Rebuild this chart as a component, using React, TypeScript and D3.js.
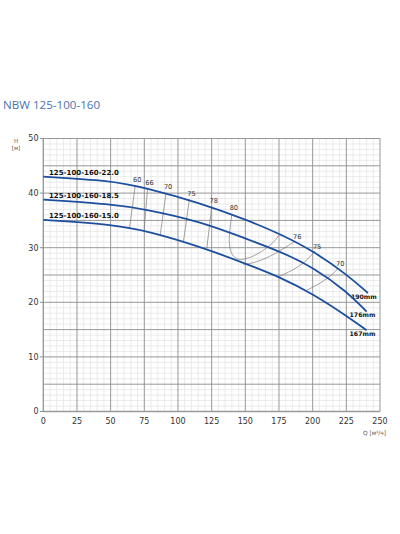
import { useEffect, useRef } from 'react';
import * as d3 from 'd3';

// pump curves (Q in m3/h, H in m)
const flow190 = [0, 50, 77, 116.5, 151, 176, 200.5, 225.3, 241];
const head190 = [43.0, 42.3, 40.9, 38.2, 35.1, 32.5, 29.4, 25.1, 21.7];
const flow176 = [0, 50, 77, 116.5, 151, 176, 200.5, 225.3, 240];
const head176 = [38.8, 38.0, 37.0, 34.8, 31.6, 29.3, 26.4, 22.0, 18.3];
const flow167 = [0, 50, 77, 116.5, 151, 176, 200.5, 225.3, 240];
const head167 = [35.1, 34.3, 33.1, 30.2, 27.0, 24.6, 21.5, 17.5, 14.9];

const modelNames = ['125-100-160-22.0', '125-100-160-18.5', '125-100-160-15.0'];
const impellerLabels = ['190mm', '176mm', '167mm'];

// efficiency iso-lines, left side (top point -> bottom point)
const effLeftValues = [60, 66, 70, 75, 78];
const effLeftTop: [number, number][] = [[68.3, 41.4], [77.4, 40.9], [91.2, 40.1], [108.5, 38.9], [125.1, 37.6]];
const effLeftBottom: [number, number][] = [[64.0, 33.6], [74.9, 33.2], [86.8, 32.3], [104.1, 31.2], [121.4, 29.9]];

// the 80% loop around the best point
const eff80: [number, number][] = [
  [140, 36.2], [138.6, 33.3], [138.2, 30.6], [140.5, 28.7], [145, 27.9],
  [152, 28.1], [162, 29.3], [170, 30.8], [175.5, 32.4]
];

// right side iso-lines (bottom point -> top point)
const effRightValues = [76, 75, 70];
const effRight: [number, number][][] = [
  [[148.6, 26.9], [158, 27.4], [168, 28.4], [178, 29.8], [187, 31.2]],
  [[174.6, 24.7], [185, 25.9], [194, 27.4], [201.8, 29.4]],
  [[195.6, 22.2], [204, 23.3], [212, 24.6], [219, 26.2]]
];

const xTicks = d3.range(0, 251, 25);
const yTicks = d3.range(0, 51, 10);

const FONT = '"DejaVu Sans", sans-serif';

export default function App() {
  const svgRef = useRef<SVGSVGElement>(null);

  useEffect(() => {
    if (!svgRef.current) return;
    const svg = d3.select(svgRef.current);
    svg.selectAll('*').remove();

    const x = d3.scaleLinear().domain([0, 250]).range([43.3, 380]);
    const y = d3.scaleLinear().domain([0, 50]).range([411.5, 138.5]);

    svg.append('rect').attr('width', 400).attr('height', 534).attr('fill', '#fff');

    // title
    svg.append('text')
      .attr('x', 3)
      .attr('y', 108.5)
      .attr('font-family', '"Open Sans", sans-serif')
      .attr('font-size', '11.6px')
      .attr('fill', '#4b73b0')
      .text('NBW 125-100-160');

    const grid = svg.append('g');

    // minor grid
    grid.selectAll('.vminor')
      .data(d3.range(0, 251, 5).filter((d) => d % 25 !== 0))
      .enter()
      .append('line')
      .attr('x1', (d) => x(d))
      .attr('x2', (d) => x(d))
      .attr('y1', y(50))
      .attr('y2', y(0))
      .attr('stroke', '#e2e2e2')
      .attr('stroke-width', 0.7);

    grid.selectAll('.hminor')
      .data(d3.range(0, 51, 1).filter((d) => d % 5 !== 0))
      .enter()
      .append('line')
      .attr('x1', x(0))
      .attr('x2', x(250))
      .attr('y1', (d) => y(d))
      .attr('y2', (d) => y(d))
      .attr('stroke', '#e2e2e2')
      .attr('stroke-width', 0.7);

    // major grid
    grid.selectAll('.vmajor')
      .data(xTicks.filter((d) => d > 0))
      .enter()
      .append('line')
      .attr('x1', (d) => x(d))
      .attr('x2', (d) => x(d))
      .attr('y1', y(50))
      .attr('y2', y(0))
      .attr('stroke', '#8c8c8c')
      .attr('stroke-width', 0.9);

    grid.selectAll('.hmajor')
      .data(d3.range(5, 51, 5))
      .enter()
      .append('line')
      .attr('x1', x(0))
      .attr('x2', x(250))
      .attr('y1', (d) => y(d))
      .attr('y2', (d) => y(d))
      .attr('stroke', '#8c8c8c')
      .attr('stroke-width', 0.9);

    // axes lines
    svg.append('line')
      .attr('x1', x(0)).attr('x2', x(0))
      .attr('y1', y(50)).attr('y2', y(0))
      .attr('stroke', '#9a9a9a').attr('stroke-width', 1.4);
    svg.append('line')
      .attr('x1', x(0)).attr('x2', x(250))
      .attr('y1', y(0)).attr('y2', y(0))
      .attr('stroke', '#9a9a9a').attr('stroke-width', 1.6);

    // y tick labels and ticks
    svg.selectAll('.ytick')
      .data(yTicks)
      .enter()
      .append('text')
      .attr('x', 38.5)
      .attr('y', (d) => y(d) + 2.8)
      .attr('text-anchor', 'end')
      .attr('font-family', FONT)
      .attr('font-size', '8px')
      .attr('fill', '#333')
      .text((d) => d);
    svg.selectAll('.ytickmark')
      .data(yTicks)
      .enter()
      .append('line')
      .attr('x1', 40)
      .attr('x2', x(0))
      .attr('y1', (d) => y(d))
      .attr('y2', (d) => y(d))
      .attr('stroke', '#777')
      .attr('stroke-width', 0.8);

    // x tick labels
    svg.selectAll('.xtick')
      .data(xTicks)
      .enter()
      .append('text')
      .attr('x', (d) => x(d))
      .attr('y', 424)
      .attr('text-anchor', 'middle')
      .attr('font-family', FONT)
      .attr('font-size', '8px')
      .attr('fill', '#333')
      .text((d) => d);

    // axis titles
    svg.append('text')
      .attr('x', 16).attr('y', 143)
      .attr('text-anchor', 'middle')
      .attr('font-family', FONT).attr('font-size', '5.5px').attr('fill', '#555')
      .text('H');
    svg.append('text')
      .attr('x', 16).attr('y', 149.5)
      .attr('text-anchor', 'middle')
      .attr('font-family', FONT).attr('font-size', '5.5px').attr('fill', '#555')
      .text('[м]');
    svg.append('text')
      .attr('x', 363).attr('y', 434.5)
      .attr('font-family', FONT).attr('font-size', '5.8px').attr('fill', '#555')
      .text('Q [м³/ч]');

    // efficiency iso-lines
    const effLine = d3.line<[number, number]>()
      .x((d) => x(d[0]))
      .y((d) => y(d[1]))
      .curve(d3.curveCatmullRom.alpha(0.5));

    const effLabel = (g: d3.Selection<SVGGElement, unknown, null, undefined>, px: number, py: number, v: number) => {
      g.append('text')
        .attr('x', px)
        .attr('y', py)
        .attr('text-anchor', 'middle')
        .attr('font-family', FONT)
        .attr('font-size', '6.6px')
        .attr('fill', '#333')
        .text(v);
    };

    const eff = svg.append('g');
    effLeftValues.forEach((v, i) => {
      eff.append('path')
        .attr('d', effLine([effLeftTop[i], effLeftBottom[i]]))
        .attr('fill', 'none')
        .attr('stroke', '#7a7a7a')
        .attr('stroke-width', 0.7);
      effLabel(eff, x(effLeftTop[i][0]) + 2, y(effLeftTop[i][1]) - 3.6, v);
    });

    eff.append('path')
      .attr('d', effLine(eff80))
      .attr('fill', 'none')
      .attr('stroke', '#7a7a7a')
      .attr('stroke-width', 0.7);
    effLabel(eff, x(eff80[0][0]) + 2, y(eff80[0][1]) - 3.6, 80);

    effRightValues.forEach((v, i) => {
      const pts = effRight[i];
      const end = pts[pts.length - 1];
      eff.append('path')
        .attr('d', effLine(pts))
        .attr('fill', 'none')
        .attr('stroke', '#7a7a7a')
        .attr('stroke-width', 0.7);
      effLabel(eff, x(end[0]) + 2, y(end[1]) - 2, v);
    });

    // pump curves (basis spline smooths out reading noise)
    const series = [
      { q: flow190, h: head190 },
      { q: flow176, h: head176 },
      { q: flow167, h: head167 }
    ];
    const pumpLine = d3.line<[number, number]>()
      .x((d) => x(d[0]))
      .y((d) => y(d[1]))
      .curve(d3.curveBasis);

    series.forEach((s, k) => {
      const pts: [number, number][] = s.q.map((q, i) => [q, s.h[i]]);
      svg.append('path')
        .attr('d', pumpLine(pts))
        .attr('fill', 'none')
        .attr('stroke', '#1d4f9f')
        .attr('stroke-width', 1.8);

      // model name above the start of the curve
      const qName = x.invert(49);
      const hName = d3.scaleLinear().domain(s.q).range(s.h).clamp(true)(qName);
      svg.append('text')
        .attr('x', 49)
        .attr('y', y(hName) - 2)
        .attr('font-family', FONT)
        .attr('font-weight', 'bold')
        .attr('font-size', '7px')
        .attr('fill', '#111')
        .text(modelNames[k]);

      // impeller diameter at the end
      const end = pts[pts.length - 1];
      svg.append('text')
        .attr('x', x(end[0]) - 17)
        .attr('y', y(end[1]) + 5.5)
        .attr('font-family', FONT)
        .attr('font-weight', 'bold')
        .attr('font-size', '6.2px')
        .attr('fill', '#111')
        .text(impellerLabels[k]);
    });
  }, []);

  return (
    <svg
      ref={svgRef}
      width={400}
      height={534}
      style={{ position: 'absolute', left: 0, top: 0 }}
    />
  );
}
